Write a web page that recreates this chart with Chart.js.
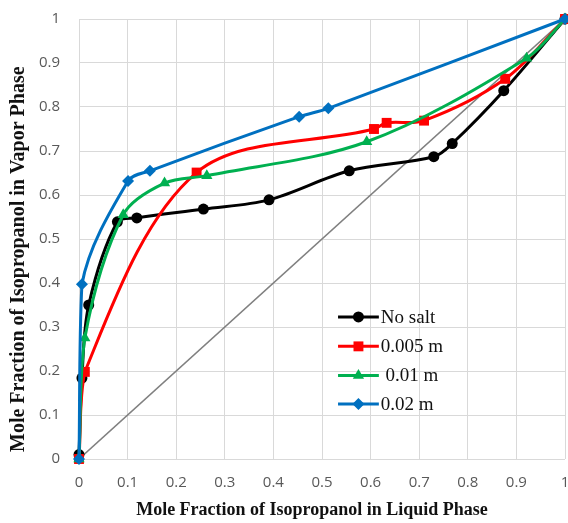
<!DOCTYPE html>
<html>
<head>
<meta charset="utf-8">
<script src="https://cdn.jsdelivr.net/npm/chart.js@4.4.1/dist/chart.umd.min.js"></script>
<style>
  html, body { margin: 0; padding: 0; background: #fff; }
  #wrap { width: 568px; height: 523px; }
</style>
</head>
<body>
<div id="wrap"><canvas id="vleChart" width="568" height="523"></canvas></div>
<script>
// Values (x = liquid, y = vapor mole fraction)
const noSaltX = [0, 0.006, 0.02, 0.079, 0.119, 0.256, 0.391, 0.556, 0.730, 0.768, 0.874, 1];
const noSaltY = [0.01, 0.184, 0.35, 0.539, 0.548, 0.568, 0.589, 0.655, 0.687, 0.717, 0.837, 1];

const salt005X = [0, 0.012, 0.242, 0.607, 0.633, 0.710, 0.877, 1];
const salt005Y = [0, 0.198, 0.651, 0.750, 0.764, 0.769, 0.864, 1];

const salt01X = [0, 0.012, 0.091, 0.176, 0.263, 0.592, 0.921, 1];
const salt01Y = [0, 0.275, 0.555, 0.627, 0.644, 0.721, 0.911, 1];

const salt02X = [0, 0.006, 0.101, 0.146, 0.453, 0.513, 1];
const salt02Y = [0, 0.397, 0.632, 0.655, 0.778, 0.797, 1];

const diagX = [0, 1];
const diagY = [0, 1];

const seriesLabels = ["No salt", "0.005 m", " 0.01 m", "0.02 m"];
const tickValues = [0, 0.1, 0.2, 0.3, 0.4, 0.5, 0.6, 0.7, 0.8, 0.9, 1];
const xTitle = "Mole Fraction of Isopropanol in Liquid Phase";
const yTitle = "Mole Fraction of Isopropanol in Vapor Phase";

function toPoints(xs, ys) {
    return xs.map((x, i) => ({ x: x, y: ys[i] }));
}

const seriesStyles = [
    { color: "#000000", shape: "circle", radius: 5.5 },
    { color: "#FF0000", shape: "rect", radius: 7 },
    { color: "#00B050", shape: "triangle", radius: 6.5 },
    { color: "#0070C0", shape: "rectRot", radius: 6 }
];

function makeSeries(idx, xs, ys) {
    const s = seriesStyles[idx];
    return {
        label: seriesLabels[idx],
        data: toPoints(xs, ys),
        showLine: true,
        borderColor: s.color,
        backgroundColor: s.color,
        borderWidth: 3,
        pointStyle: s.shape,
        pointRadius: s.radius,
        pointBorderWidth: 0,
        tension: 0.33,
        clip: false,
        order: 4 - idx
    };
}

function drawMarker(ctx, shape, x, y, r) {
    ctx.beginPath();
    if (shape === "circle") {
        ctx.arc(x, y, r, 0, Math.PI * 2);
    } else if (shape === "rect") {
        const h = r * Math.SQRT1_2;
        ctx.rect(x - h, y - h, 2 * h, 2 * h);
    } else if (shape === "triangle") {
        ctx.moveTo(x, y - r);
        ctx.lineTo(x + r * 0.87, y + r * 0.5);
        ctx.lineTo(x - r * 0.87, y + r * 0.5);
        ctx.closePath();
    } else {
        ctx.moveTo(x, y - r);
        ctx.lineTo(x + r, y);
        ctx.lineTo(x, y + r);
        ctx.lineTo(x - r, y);
        ctx.closePath();
    }
    ctx.fill();
}

// legend inside the plot: short line with a marker, then the text
const insideLegend = {
    id: "insideLegend",
    afterDatasetsDraw(chart) {
        const ctx = chart.ctx;
        const xs = chart.scales.x;
        const ys = chart.scales.y;
        const x0 = xs.getPixelForValue(0.533);
        const x1 = xs.getPixelForValue(0.617);
        const rowVals = [0.323, 0.256, 0.19, 0.125];

        ctx.save();
        seriesStyles.forEach((s, i) => {
            const y = ys.getPixelForValue(rowVals[i]);
            ctx.strokeStyle = s.color;
            ctx.lineWidth = 3;
            ctx.beginPath();
            ctx.moveTo(x0, y);
            ctx.lineTo(x1, y);
            ctx.stroke();

            ctx.fillStyle = s.color;
            drawMarker(ctx, s.shape, (x0 + x1) / 2, y, s.radius);

            ctx.fillStyle = "#111";
            ctx.font = "19px 'Liberation Serif', 'DejaVu Serif', serif";
            ctx.textBaseline = "middle";
            ctx.textAlign = "left";
            ctx.fillText(seriesLabels[i], x1 + 2, y + 1);
        });
        ctx.restore();
    }
};

// axis titles, placed where the reference has them (slightly off-centre)
const axisTitles = {
    id: "axisTitles",
    afterDraw(chart) {
        const ctx = chart.ctx;
        ctx.save();
        ctx.fillStyle = "#111";
        ctx.textBaseline = "middle";

        ctx.font = "bold 18px 'Liberation Serif', 'DejaVu Serif', serif";
        ctx.textAlign = "center";
        ctx.fillText(xTitle, 312, 510);

        ctx.font = "bold 20px 'Liberation Serif', 'DejaVu Serif', serif";
        ctx.translate(19, 452);
        ctx.rotate(-Math.PI / 2);
        ctx.textAlign = "left";
        ctx.fillText(yTitle, 0, 0);
        ctx.restore();
    }
};

const tickFont = { family: "'Open Sans', 'Liberation Sans', sans-serif", size: 15 };

function fmtTick(v) {
    if (v === 0) return "0";
    if (v === 1) return "1";
    return v.toFixed(1);
}

new Chart(document.getElementById("vleChart"), {
    type: "scatter",
    data: {
        datasets: [
            {
                label: "x = y",
                data: toPoints(diagX, diagY),
                showLine: true,
                borderColor: "#808080",
                borderWidth: 1.6,
                pointRadius: 0,
                order: 5
            },
            makeSeries(0, noSaltX, noSaltY),
            makeSeries(1, salt005X, salt005Y),
            makeSeries(2, salt01X, salt01Y),
            makeSeries(3, salt02X, salt02Y)
        ]
    },
    options: {
        responsive: false,
        animation: false,
        layout: { autoPadding: false, padding: { top: 19, right: 3, left: 0, bottom: 0 } },
        plugins: {
            legend: { display: false },
            tooltip: { enabled: false }
        },
        scales: {
            x: {
                type: "linear",
                min: 0,
                max: 1,
                afterBuildTicks: (scale) => { scale.ticks = tickValues.map(v => ({ value: v })); },
                afterFit: (scale) => {
                    scale.height = 64;
                    scale.paddingLeft = 0;
                    scale.paddingRight = 0;
                },
                ticks: { color: "#595959", font: tickFont, padding: 15, maxRotation: 0, callback: fmtTick },
                grid: { color: "#D9D9D9", lineWidth: 1, drawTicks: false },
                border: { display: false }
            },
            y: {
                type: "linear",
                min: 0,
                max: 1,
                afterBuildTicks: (scale) => { scale.ticks = tickValues.map(v => ({ value: v })); },
                afterFit: (scale) => {
                    scale.width = 79;
                    scale.paddingTop = 0;
                    scale.paddingBottom = 0;
                },
                ticks: { color: "#595959", font: tickFont, padding: 19, callback: fmtTick },
                grid: { color: "#D9D9D9", lineWidth: 1, drawTicks: false },
                border: { display: false }
            }
        }
    },
    plugins: [insideLegend, axisTitles]
});
</script>
</body>
</html>
